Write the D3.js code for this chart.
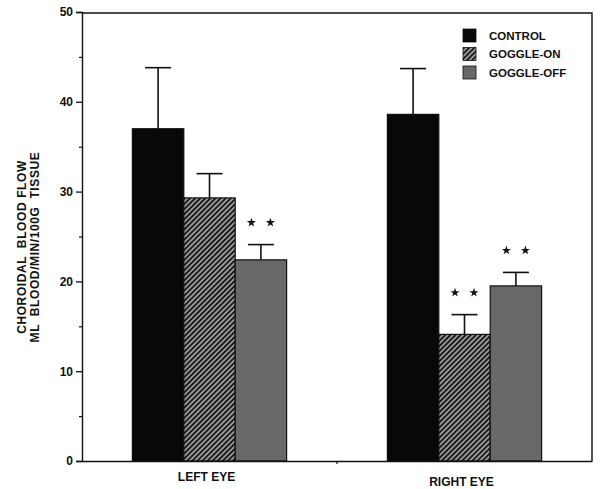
<!DOCTYPE html>
<html>
<head>
<meta charset="utf-8">
<script src="https://cdn.jsdelivr.net/npm/d3@7"></script>
<style>
  body { margin: 0; background: #fff; }
  text { font-family: "Liberation Sans", Arial, sans-serif; font-weight: bold; fill: #111; }
</style>
</head>
<body>
<div id="chart"></div>
<script>
// chart data
var groups = ["LEFT EYE", "RIGHT EYE"];
var series = ["CONTROL", "GOGGLE-ON", "GOGGLE-OFF"];
var controlMean = [37.0, 38.6];
var controlErr = [6.8, 5.1];
var onMean = [29.3, 14.1];
var onErr = [2.7, 2.2];
var offMean = [22.4, 19.5];
var offErr = [1.7, 1.5];
var onSignif = [false, true];
var offSignif = [true, true];
var yTicks = [0, 10, 20, 30, 40, 50];
var yMinorTicks = [5, 15, 25, 35, 45];

var width = 600, height = 489;
var margin = {top: 12, right: 8, bottom: 28, left: 82};

var svg = d3.select("#chart").append("svg")
    .attr("width", width)
    .attr("height", height);

// patterns for the fills
var defs = svg.append("defs");
var hatch = defs.append("pattern")
    .attr("id", "hatch")
    .attr("patternUnits", "userSpaceOnUse")
    .attr("width", 3.6)
    .attr("height", 3.6)
    .attr("patternTransform", "rotate(45)");
hatch.append("rect").attr("width", 3.6).attr("height", 3.6).attr("fill", "#a8a8a8");
hatch.append("rect").attr("width", 2).attr("height", 3.6).attr("fill", "#1a1a1a");

var fills = {
    "CONTROL": "#080808",
    "GOGGLE-ON": "url(#hatch)",
    "GOGGLE-OFF": "#686868"
};

// rows built from the arrays
var rows = [];
groups.forEach(function (g, i) {
    rows.push({group: g, series: "CONTROL", mean: controlMean[i], err: controlErr[i], sig: false});
    rows.push({group: g, series: "GOGGLE-ON", mean: onMean[i], err: onErr[i], sig: onSignif[i]});
    rows.push({group: g, series: "GOGGLE-OFF", mean: offMean[i], err: offErr[i], sig: offSignif[i]});
});

var x0 = d3.scaleBand()
    .domain(groups)
    .range([margin.left, width - margin.right]);

var x1 = d3.scaleBand()
    .domain(series)
    .range([0, x0.bandwidth()])
    .paddingInner(0)
    .paddingOuter(0.98);

var y = d3.scaleLinear()
    .domain([0, 50])
    .range([height - margin.bottom, margin.top]);

var g = svg.append("g");

// frame (top and right)
g.append("path")
    .attr("d", "M" + margin.left + "," + (y(50) + 1) + "H" + (width - margin.right) + "V" + y(0))
    .attr("fill", "none")
    .attr("stroke", "#111")
    .attr("stroke-width", 1.4);

// bars
g.selectAll("rect.bar")
    .data(rows)
    .enter()
    .append("rect")
    .attr("class", "bar")
    .attr("x", function (d) { return x0(d.group) + x1(d.series); })
    .attr("y", function (d) { return y(d.mean); })
    .attr("width", x1.bandwidth())
    .attr("height", function (d) { return y(0) - y(d.mean); })
    .attr("fill", function (d) { return fills[d.series]; })
    .attr("stroke", "#111")
    .attr("stroke-width", 1.2);

// error bars
var capHalf = 13;
var errs = g.selectAll("g.err")
    .data(rows)
    .enter()
    .append("g")
    .attr("class", "err")
    .attr("transform", function (d) {
        return "translate(" + (x0(d.group) + x1(d.series) + x1.bandwidth() / 2) + ",0)";
    });
errs.append("line")
    .attr("x1", 0).attr("x2", 0)
    .attr("y1", function (d) { return y(d.mean); })
    .attr("y2", function (d) { return y(d.mean + d.err); })
    .attr("stroke", "#111")
    .attr("stroke-width", 1.6);
errs.append("line")
    .attr("x1", -capHalf).attr("x2", capHalf)
    .attr("y1", function (d) { return y(d.mean + d.err); })
    .attr("y2", function (d) { return y(d.mean + d.err); })
    .attr("stroke", "#111")
    .attr("stroke-width", 1.6);

// significance stars
var star = d3.symbol().type(d3.symbolStar).size(26);
errs.filter(function (d) { return d.sig; })
    .selectAll("path.star")
    .data(function (d) { return [-9.5, 9.5].map(function (dx) { return {dx: dx, d: d}; }); })
    .enter()
    .append("path")
    .attr("class", "star")
    .attr("d", star)
    .attr("fill", "#111")
    .attr("transform", function (s) {
        return "translate(" + s.dx + "," + (y(s.d.mean + s.d.err) - 22) + ")";
    });

// y axis
var yAxis = g.append("g")
    .attr("transform", "translate(" + margin.left + ",0)")
    .call(d3.axisLeft(y).tickValues(yTicks).tickSize(6).tickPadding(3).tickFormat(d3.format("d")));
yAxis.select(".domain").attr("stroke", "#111").attr("stroke-width", 1.4);
yAxis.selectAll(".tick line").attr("stroke", "#111").attr("stroke-width", 1.3);
yAxis.selectAll(".tick text")
    .attr("font-size", 12)
    .attr("font-family", "Liberation Sans, Arial, sans-serif")
    .attr("font-weight", "bold")
    .attr("fill", "#111");

var yMinor = g.append("g")
    .attr("transform", "translate(" + margin.left + ",0)")
    .call(d3.axisLeft(y).tickValues(yMinorTicks).tickSize(3).tickFormat(""));
yMinor.select(".domain").remove();
yMinor.selectAll(".tick line").attr("stroke", "#111").attr("stroke-width", 1.2);

// x axis
var xAxis = g.append("g")
    .attr("transform", "translate(0," + y(0) + ")")
    .call(d3.axisBottom(x0).tickSize(0).tickFormat(""));
xAxis.select(".domain").attr("stroke", "#111").attr("stroke-width", 1.4);
g.selectAll("line.xsep")
    .data(groups.slice(1))
    .enter()
    .append("line")
    .attr("class", "xsep")
    .attr("x1", function (d) { return x0(d); })
    .attr("x2", function (d) { return x0(d); })
    .attr("y1", y(0))
    .attr("y2", y(0) + 3)
    .attr("stroke", "#111")
    .attr("stroke-width", 1.2);

var labelDy = [20, 25];
g.selectAll("text.xlab")
    .data(groups)
    .enter()
    .append("text")
    .attr("class", "xlab")
    .attr("x", function (d) { return x0(d) + x0.bandwidth() / 2 - 3; })
    .attr("y", function (d, i) { return y(0) + labelDy[i]; })
    .attr("text-anchor", "middle")
    .attr("font-size", 12)
    .text(function (d) { return d; });

// y axis title
var yTitle = ["CHOROIDAL  BLOOD FLOW", "ML  BLOOD/MIN/100G  TISSUE"];
g.selectAll("text.ytitle")
    .data(yTitle)
    .enter()
    .append("text")
    .attr("class", "ytitle")
    .attr("transform", function (d, i) { return "translate(" + (26 + i * 13) + ",247) rotate(-90)"; })
    .attr("text-anchor", "middle")
    .attr("font-size", 12)
    .attr("letter-spacing", 0.6)
    .style("white-space", "pre")
    .text(function (d) { return d; });

// legend
var legend = g.selectAll("g.legend")
    .data(series)
    .enter()
    .append("g")
    .attr("class", "legend")
    .attr("transform", function (d, i) { return "translate(463," + (29 + i * 18.5) + ")"; });
legend.append("rect")
    .attr("width", 13)
    .attr("height", 13)
    .attr("fill", function (d) { return fills[d]; })
    .attr("stroke", "#111")
    .attr("stroke-width", 0.8);
legend.append("text")
    .attr("x", 26)
    .attr("y", 10.5)
    .attr("font-size", 11.5)
    .text(function (d) { return d; });
</script>
</body>
</html>
